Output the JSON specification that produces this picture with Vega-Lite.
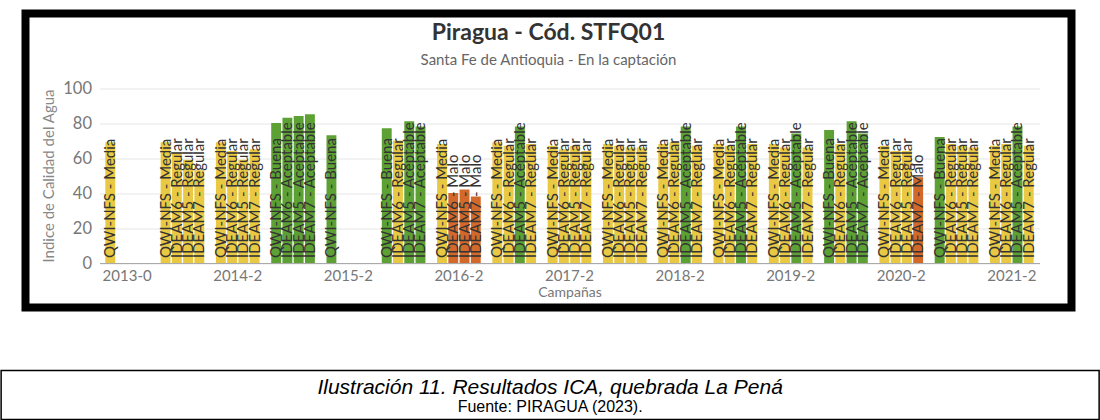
{
  "$schema": "https://vega.github.io/schema/vega-lite/v6.json",
  "background": "white",
  "padding": {"left": 0, "top": 9.5, "right": 0, "bottom": 0},
  "spacing": 58,
  "center": true,
  "config": {"font": "Lato"},
  "vconcat": [
    {
      "width": 1046,
      "height": 294,
      "view": {"stroke": "#000000", "strokeWidth": 8},
      "title": {
        "text": "Piragua - Cód. STFQ01",
        "subtitle": "Santa Fe de Antioquia - En la captación",
        "anchor": "middle",
        "offset": -54,
        "font": "Lato",
        "fontSize": 23,
        "fontWeight": "bold",
        "color": "#333333",
        "subtitleFont": "Lato",
        "subtitleFontSize": 15,
        "subtitleColor": "#666666",
        "subtitlePadding": 8
      },
      "data": {
        "values": [
          {"campana": "2013-0", "indice": "QWI-NFS", "valor": 69, "clase": "Media", "etiqueta": "QWI-NFS - Media"},
          {"campana": "2014-1", "indice": "QWI-NFS", "valor": 69, "clase": "Media", "etiqueta": "QWI-NFS - Media"},
          {"campana": "2014-1", "indice": "IDEAM6", "valor": 63, "clase": "Regular", "etiqueta": "IDEAM6 - Regular"},
          {"campana": "2014-1", "indice": "IDEAM5", "valor": 59, "clase": "Regular", "etiqueta": "IDEAM5 - Regular"},
          {"campana": "2014-1", "indice": "IDEAM7", "valor": 53, "clase": "Regular", "etiqueta": "IDEAM7 - Regular"},
          {"campana": "2014-2", "indice": "QWI-NFS", "valor": 69, "clase": "Media", "etiqueta": "QWI-NFS - Media"},
          {"campana": "2014-2", "indice": "IDEAM6", "valor": 64, "clase": "Regular", "etiqueta": "IDEAM6 - Regular"},
          {"campana": "2014-2", "indice": "IDEAM5", "valor": 59, "clase": "Regular", "etiqueta": "IDEAM5 - Regular"},
          {"campana": "2014-2", "indice": "IDEAM7", "valor": 65, "clase": "Regular", "etiqueta": "IDEAM7 - Regular"},
          {"campana": "2015-1", "indice": "QWI-NFS", "valor": 80, "clase": "Buena", "etiqueta": "QWI-NFS - Buena"},
          {"campana": "2015-1", "indice": "IDEAM6", "valor": 83, "clase": "Aceptable", "etiqueta": "IDEAM6 - Aceptable"},
          {"campana": "2015-1", "indice": "IDEAM5", "valor": 84, "clase": "Aceptable", "etiqueta": "IDEAM5 - Aceptable"},
          {"campana": "2015-1", "indice": "IDEAM7", "valor": 85, "clase": "Aceptable", "etiqueta": "IDEAM7 - Aceptable"},
          {"campana": "2015-2", "indice": "QWI-NFS", "valor": 73, "clase": "Buena", "etiqueta": "QWI-NFS - Buena"},
          {"campana": "2016-1", "indice": "QWI-NFS", "valor": 77, "clase": "Buena", "etiqueta": "QWI-NFS - Buena"},
          {"campana": "2016-1", "indice": "IDEAM6", "valor": 70, "clase": "Regular", "etiqueta": "IDEAM6 - Regular"},
          {"campana": "2016-1", "indice": "IDEAM5", "valor": 81, "clase": "Aceptable", "etiqueta": "IDEAM5 - Aceptable"},
          {"campana": "2016-1", "indice": "IDEAM7", "valor": 78, "clase": "Aceptable", "etiqueta": "IDEAM7 - Aceptable"},
          {"campana": "2016-2", "indice": "QWI-NFS", "valor": 68, "clase": "Media", "etiqueta": "QWI-NFS - Media"},
          {"campana": "2016-2", "indice": "IDEAM6", "valor": 40, "clase": "Malo", "etiqueta": "IDEAM6 - Malo"},
          {"campana": "2016-2", "indice": "IDEAM5", "valor": 42, "clase": "Malo", "etiqueta": "IDEAM5 - Malo"},
          {"campana": "2016-2", "indice": "IDEAM7", "valor": 38, "clase": "Malo", "etiqueta": "IDEAM7 - Malo"},
          {"campana": "2017-1", "indice": "QWI-NFS", "valor": 69, "clase": "Media", "etiqueta": "QWI-NFS - Media"},
          {"campana": "2017-1", "indice": "IDEAM6", "valor": 67, "clase": "Regular", "etiqueta": "IDEAM6 - Regular"},
          {"campana": "2017-1", "indice": "IDEAM5", "valor": 78, "clase": "Aceptable", "etiqueta": "IDEAM5 - Aceptable"},
          {"campana": "2017-1", "indice": "IDEAM7", "valor": 68, "clase": "Regular", "etiqueta": "IDEAM7 - Regular"},
          {"campana": "2017-2", "indice": "QWI-NFS", "valor": 67, "clase": "Media", "etiqueta": "QWI-NFS - Media"},
          {"campana": "2017-2", "indice": "IDEAM6", "valor": 65, "clase": "Regular", "etiqueta": "IDEAM6 - Regular"},
          {"campana": "2017-2", "indice": "IDEAM5", "valor": 67, "clase": "Regular", "etiqueta": "IDEAM5 - Regular"},
          {"campana": "2017-2", "indice": "IDEAM7", "valor": 64, "clase": "Regular", "etiqueta": "IDEAM7 - Regular"},
          {"campana": "2018-1", "indice": "QWI-NFS", "valor": 68, "clase": "Media", "etiqueta": "QWI-NFS - Media"},
          {"campana": "2018-1", "indice": "IDEAM6", "valor": 67, "clase": "Regular", "etiqueta": "IDEAM6 - Regular"},
          {"campana": "2018-1", "indice": "IDEAM5", "valor": 66, "clase": "Regular", "etiqueta": "IDEAM5 - Regular"},
          {"campana": "2018-1", "indice": "IDEAM7", "valor": 66, "clase": "Regular", "etiqueta": "IDEAM7 - Regular"},
          {"campana": "2018-2", "indice": "QWI-NFS", "valor": 68, "clase": "Media", "etiqueta": "QWI-NFS - Media"},
          {"campana": "2018-2", "indice": "IDEAM6", "valor": 69, "clase": "Regular", "etiqueta": "IDEAM6 - Regular"},
          {"campana": "2018-2", "indice": "IDEAM5", "valor": 78, "clase": "Aceptable", "etiqueta": "IDEAM5 - Aceptable"},
          {"campana": "2018-2", "indice": "IDEAM7", "valor": 67, "clase": "Regular", "etiqueta": "IDEAM7 - Regular"},
          {"campana": "2019-1", "indice": "QWI-NFS", "valor": 68, "clase": "Media", "etiqueta": "QWI-NFS - Media"},
          {"campana": "2019-1", "indice": "IDEAM6", "valor": 67, "clase": "Regular", "etiqueta": "IDEAM6 - Regular"},
          {"campana": "2019-1", "indice": "IDEAM5", "valor": 78, "clase": "Aceptable", "etiqueta": "IDEAM5 - Aceptable"},
          {"campana": "2019-1", "indice": "IDEAM7", "valor": 68, "clase": "Regular", "etiqueta": "IDEAM7 - Regular"},
          {"campana": "2019-2", "indice": "QWI-NFS", "valor": 68, "clase": "Media", "etiqueta": "QWI-NFS - Media"},
          {"campana": "2019-2", "indice": "IDEAM6", "valor": 66, "clase": "Regular", "etiqueta": "IDEAM6 - Regular"},
          {"campana": "2019-2", "indice": "IDEAM5", "valor": 74, "clase": "Aceptable", "etiqueta": "IDEAM5 - Aceptable"},
          {"campana": "2019-2", "indice": "IDEAM7", "valor": 66, "clase": "Regular", "etiqueta": "IDEAM7 - Regular"},
          {"campana": "2020-1", "indice": "QWI-NFS", "valor": 76, "clase": "Buena", "etiqueta": "QWI-NFS - Buena"},
          {"campana": "2020-1", "indice": "IDEAM6", "valor": 68, "clase": "Regular", "etiqueta": "IDEAM6 - Regular"},
          {"campana": "2020-1", "indice": "IDEAM5", "valor": 81, "clase": "Aceptable", "etiqueta": "IDEAM5 - Aceptable"},
          {"campana": "2020-1", "indice": "IDEAM7", "valor": 74, "clase": "Aceptable", "etiqueta": "IDEAM7 - Aceptable"},
          {"campana": "2020-2", "indice": "QWI-NFS", "valor": 67, "clase": "Media", "etiqueta": "QWI-NFS - Media"},
          {"campana": "2020-2", "indice": "IDEAM6", "valor": 64, "clase": "Regular", "etiqueta": "IDEAM6 - Regular"},
          {"campana": "2020-2", "indice": "IDEAM5", "valor": 64, "clase": "Regular", "etiqueta": "IDEAM5 - Regular"},
          {"campana": "2020-2", "indice": "IDEAM7", "valor": 49, "clase": "Malo", "etiqueta": "IDEAM7 - Malo"},
          {"campana": "2021-1", "indice": "QWI-NFS", "valor": 72, "clase": "Buena", "etiqueta": "QWI-NFS - Buena"},
          {"campana": "2021-1", "indice": "IDEAM6", "valor": 68, "clase": "Regular", "etiqueta": "IDEAM6 - Regular"},
          {"campana": "2021-1", "indice": "IDEAM5", "valor": 67, "clase": "Regular", "etiqueta": "IDEAM5 - Regular"},
          {"campana": "2021-1", "indice": "IDEAM7", "valor": 66, "clase": "Regular", "etiqueta": "IDEAM7 - Regular"},
          {"campana": "2021-2", "indice": "QWI-NFS", "valor": 67, "clase": "Media", "etiqueta": "QWI-NFS - Media"},
          {"campana": "2021-2", "indice": "IDEAM6", "valor": 68, "clase": "Regular", "etiqueta": "IDEAM6 - Regular"},
          {"campana": "2021-2", "indice": "IDEAM5", "valor": 78, "clase": "Aceptable", "etiqueta": "IDEAM5 - Aceptable"},
          {"campana": "2021-2", "indice": "IDEAM7", "valor": 67, "clase": "Regular", "etiqueta": "IDEAM7 - Regular"}
        ]
      },
      "encoding": {
        "x": {
          "field": "campana",
          "type": "nominal",
          "sort": null,
          "scale": {"range": [74, 1014], "paddingInner": 0.186, "paddingOuter": 0.093},
          "axis": {
            "title": "Campañas",
            "values": ["2013-0", "2014-2", "2015-2", "2016-2", "2017-2", "2018-2", "2019-2", "2020-2", "2021-2"],
            "offset": -44.5,
            "labelAngle": 0,
            "ticks": false,
            "domainColor": "#aaaaaa",
            "domainWidth": 1,
            "labelFont": "Lato",
            "labelFontSize": 15,
            "labelColor": "#777777",
            "labelPadding": 5,
            "titleFont": "Lato",
            "titleFontSize": 14,
            "titleFontWeight": "normal",
            "titleColor": "#777777",
            "titlePadding": 2
          }
        },
        "xOffset": {
          "field": "indice",
          "type": "nominal",
          "sort": ["QWI-NFS", "IDEAM6", "IDEAM5", "IDEAM7"],
          "scale": {"paddingInner": 0.12, "paddingOuter": 0.06}
        }
      },
      "resolve": {"scale": {"y": "independent"}, "axis": {"y": "independent"}},
      "layer": [
        {
          "mark": {"type": "bar"},
          "encoding": {
            "y": {
              "field": "valor",
              "type": "quantitative",
              "scale": {"domain": [0, 100], "range": [249.5, 74.5], "nice": false, "zero": true},
              "axis": {
                "orient": "left",
                "title": "Indice de Calidad del Agua",
                "values": [0, 20, 40, 60, 80, 100],
                "offset": -74,
                "domain": false,
                "ticks": false,
                "labelFont": "Lato",
                "labelFontSize": 16.5,
                "labelColor": "#777777",
                "labelPadding": 8,
                "titleFont": "Lato",
                "titleFontSize": 15,
                "titleFontWeight": "normal",
                "titleColor": "#888888",
                "titlePadding": 6,
                "gridColor": "#e6e6e6",
                "gridWidth": 1
              }
            },
            "color": {
              "field": "clase",
              "type": "nominal",
              "scale": {
                "domain": ["Buena", "Aceptable", "Media", "Regular", "Malo"],
                "range": ["#5DA134", "#5DA134", "#E9C944", "#E9C944", "#D2692A"]
              },
              "legend": null
            }
          }
        },
        {
          "mark": {"type": "text", "angle": 270, "align": "left", "baseline": "middle", "dx": 5, "font": "Lato", "fontSize": 15, "color": "#333333"},
          "encoding": {
            "y": {
              "datum": 0,
              "type": "quantitative",
              "scale": {"domain": [0, 100], "range": [249.5, 74.5], "nice": false, "zero": true},
              "axis": {"orient": "left", "title": null, "labels": false, "domain": false, "grid": false, "ticks": true, "tickSize": 10, "tickOpacity": 0, "values": [0], "offset": 0}
            },
            "text": {"field": "etiqueta"}
          }
        }
      ]
    },
    {
      "width": 1098,
      "height": 49,
      "view": {"stroke": "#000000", "strokeWidth": 1.5},
      "title": {
        "text": "Ilustración 11. Resultados ICA, quebrada La Pená",
        "subtitle": "Fuente: PIRAGUA (2023).",
        "anchor": "middle",
        "offset": -44,
        "font": "Liberation Sans",
        "fontSize": 21,
        "fontStyle": "italic",
        "fontWeight": "normal",
        "color": "#000000",
        "subtitleFont": "Liberation Sans",
        "subtitleFontSize": 16,
        "subtitleColor": "#000000",
        "subtitlePadding": 1
      },
      "data": {"values": [{"vacio": ""}]},
      "mark": {"type": "text"},
      "encoding": {"text": {"field": "vacio"}}
    }
  ]
}
